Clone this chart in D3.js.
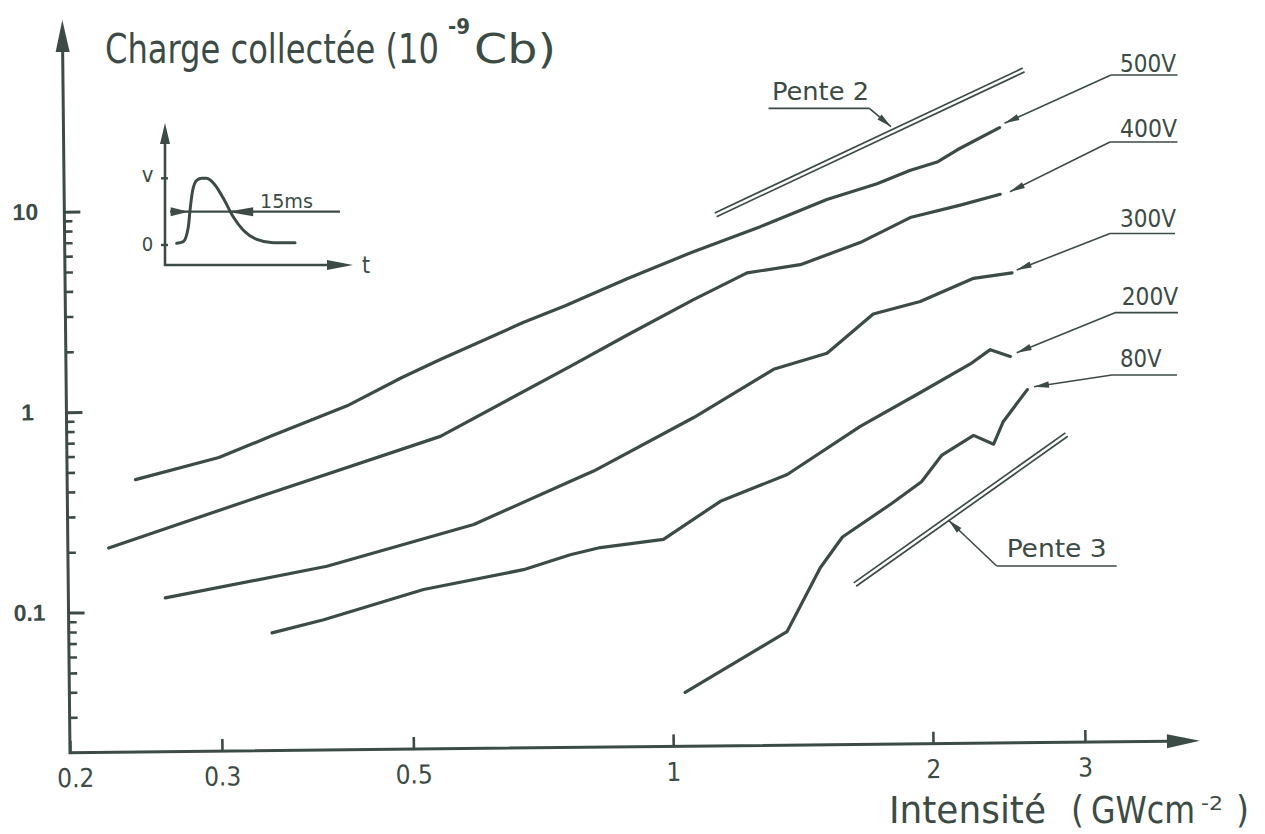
<!DOCTYPE html>
<html>
<head>
<meta charset="utf-8">
<script src="https://cdn.jsdelivr.net/npm/d3@7"></script>
<style>
  html, body { margin: 0; padding: 0; background: #ffffff; }
  svg { display: block; }
</style>
</head>
<body>
<svg id="chart" width="1265" height="834"></svg>
<script>
// ---- Collected charge (10^-9 C) versus laser intensity (GW cm^-2) ----
const intensity500 = [0.24, 0.30, 0.344, 0.423, 0.49, 0.543, 0.678, 0.759, 0.896, 1.07, 1.28, 1.53, 1.75, 1.91, 2.06, 2.17, 2.43];
const charge500    = [0.457, 0.583, 0.737, 1.04, 1.43, 1.75, 2.65, 3.2, 4.33, 5.86, 7.75, 10.5, 12.5, 14.5, 16.0, 18.3, 23.5];

const intensity400 = [0.223, 0.344, 0.542, 0.768, 0.894, 1.069, 1.234, 1.423, 1.67, 1.91, 2.184, 2.43];
const charge400    = [0.209, 0.386, 0.724, 1.594, 2.261, 3.379, 4.564, 4.985, 6.375, 8.447, 9.69, 10.92];

const intensity300 = [0.259, 0.399, 0.591, 0.766, 0.815, 1.066, 1.321, 1.524, 1.726, 1.957, 2.258, 2.502];
const charge300    = [0.117, 0.165, 0.262, 0.426, 0.477, 0.872, 1.503, 1.796, 2.805, 3.219, 4.173, 4.42];

const intensity200 = [0.344, 0.395, 0.516, 0.674, 0.764, 0.828, 0.98, 1.142, 1.366, 1.662, 1.953, 2.233, 2.356, 2.485];
const charge200    = [0.0773, 0.0894, 0.125, 0.155, 0.183, 0.198, 0.216, 0.332, 0.448, 0.772, 1.131, 1.561, 1.835, 1.69];

const intensity80  = [1.034, 1.359, 1.488, 1.58, 1.805, 1.954, 2.065, 2.248, 2.371, 2.434, 2.598];
const charge80     = [0.0371, 0.0737, 0.153, 0.217, 0.318, 0.406, 0.55, 0.687, 0.619, 0.801, 1.154];

const voltageLabels = ["500V", "400V", "300V", "200V", "80V"];

// Reference slopes (log-log): "Pente 2" and "Pente 3"
const slope2Intensity = [1.134, 2.59];
const slope2Charge    = [9.12, 46.4];
const slope3Intensity = [1.626, 2.872];
const slope3Charge    = [0.128, 0.699];

// Axis ticks
const xTickValues = [0.2, 0.3, 0.5, 1, 2, 3];
const xTickLabels = ["0.2", "0.3", "0.5", "1", "2", "3"];
const yTickValues = [0.1, 1, 10];
const yTickLabels = ["0.1", "1", "10"];

// Inset: detector pulse shape (time in ms, normalised voltage)
const pulseTime = [4.55, 7.12, 9.07, 9.73, 10.78, 12.33, 14.28, 16.2, 19.46, 22.7, 26.6, 30.5, 35.7, 42.1, 50.6];
const pulseVolt = [0.025, 0.05, 0.27, 0.52, 0.82, 0.97, 1.0, 1.0, 0.90, 0.70, 0.42, 0.22, 0.085, 0.035, 0.035];
const pulseWidthMs = 15;
const pulseWidthStart = 9.2;

// ---- styling ----
const INK = "#3d4b46";
const NARROW = "'Liberation Sans Narrow','DejaVu Sans Condensed','DejaVu Sans',sans-serif";
const BOLD = "'Liberation Sans',Arial,sans-serif";
const tilt = -0.6;               // the whole plot sits slightly rotated on the sheet

const svg = d3.select("#chart");

// ---- scales ----
const x = d3.scaleLog().domain([0.2, 3]).range([70, 1085]);
const y = d3.scaleLog().domain([0.02, 10]).range([752.7, 211.7]);
const x0 = x(0.2), y0 = y(0.02);
const yAxisTop = 20, xAxisEnd = 1200;

const plot = svg.append("g").attr("transform", `rotate(${tilt},${x0},${y0})`);

// ---- x axis (ticks point up into the plot) ----
const xAxis = d3.axisBottom(x)
  .tickValues(xTickValues)
  .tickFormat((d, i) => xTickLabels[i])
  .tickSize(-12)
  .tickPadding(16);
const gx = plot.append("g").attr("transform", `translate(0,${y0})`).call(xAxis);
gx.select(".domain").remove();
gx.selectAll(".tick line").attr("stroke", INK).attr("stroke-width", 2.6);
gx.selectAll(".tick text")
  .attr("fill", INK).attr("font-family", NARROW).attr("font-size", 26)
  .attr("dx", (d, i) => i === 0 ? 5 : 0);

// ---- y axis: major ticks with labels, minor ticks without ----
const isMajor = d => Math.abs(Math.log10(d) - Math.round(Math.log10(d))) < 1e-6;
const minorValues = y.ticks().filter(d => d > 0.025 && d < 9.5 && !isMajor(d));

const gyMinor = plot.append("g").attr("transform", `translate(${x0},0)`)
  .call(d3.axisLeft(y).tickValues(minorValues).tickFormat("").tickSize(-8));
gyMinor.select(".domain").remove();
gyMinor.selectAll(".tick line").attr("stroke", INK).attr("stroke-width", 2.6);

const gy = plot.append("g").attr("transform", `translate(${x0},0)`)
  .call(d3.axisLeft(y).tickValues(yTickValues).tickFormat((d, i) => yTickLabels[i]).tickSize(-16).tickPadding(39));
gy.select(".domain").remove();
gy.selectAll(".tick line").attr("stroke", INK).attr("stroke-width", 3);
gy.selectAll(".tick text")
  .attr("fill", INK).attr("font-family", BOLD).attr("font-weight", "bold")
  .attr("font-size", 23).attr("text-anchor", "middle");

// ---- axis lines with arrowheads ----
plot.append("path")
  .attr("d", `M${x0},${yAxisTop + 28}L${x0},${y0}L${xAxisEnd - 30},${y0}`)
  .attr("fill", "none").attr("stroke", INK).attr("stroke-width", 3)
  .attr("stroke-linejoin", "miter");
plot.append("path")
  .attr("d", `M${x0},${yAxisTop}L${x0 - 7},${yAxisTop + 32}L${x0 + 7},${yAxisTop + 32}Z`)
  .attr("fill", INK);
plot.append("path")
  .attr("d", `M${xAxisEnd},${y0}L${xAxisEnd - 33},${y0 - 7}L${xAxisEnd - 33},${y0 + 7}Z`)
  .attr("fill", INK);

// ---- measured curves ----
const series = [
  { label: voltageLabels[0], intensity: intensity500, charge: charge500 },
  { label: voltageLabels[1], intensity: intensity400, charge: charge400 },
  { label: voltageLabels[2], intensity: intensity300, charge: charge300 },
  { label: voltageLabels[3], intensity: intensity200, charge: charge200 },
  { label: voltageLabels[4], intensity: intensity80,  charge: charge80 }
];
const line = d3.line().x(d => x(d[0])).y(d => y(d[1]));
plot.selectAll("path.curve")
  .data(series)
  .join("path")
  .attr("class", "curve")
  .attr("d", s => line(d3.zip(s.intensity, s.charge)))
  .attr("fill", "none").attr("stroke", INK).attr("stroke-width", 3.2)
  .attr("stroke-linejoin", "round").attr("stroke-linecap", "round");

// ---- slope guides, drawn as a pair of thin parallel lines ----
function slopeGuide(xs, ys, gap) {
  const a = [x(xs[0]), y(ys[0])], b = [x(xs[1]), y(ys[1])];
  const dx = b[0] - a[0], dy = b[1] - a[1], len = Math.hypot(dx, dy);
  const nx = -dy / len * gap, ny = dx / len * gap;
  [0, 1].forEach(k => {
    plot.append("line")
      .attr("x1", a[0] + k * nx).attr("y1", a[1] + k * ny)
      .attr("x2", b[0] + k * nx).attr("y2", b[1] + k * ny)
      .attr("stroke", INK).attr("stroke-width", 1.7);
  });
}
slopeGuide(slope2Intensity, slope2Charge, 4.2);
slopeGuide(slope3Intensity, slope3Charge, 4.2);

// ---- annotations (page coordinates) ----
const ann = svg.append("g");

function arrowHead(tip, from, len, half) {
  const dx = tip[0] - from[0], dy = tip[1] - from[1], l = Math.hypot(dx, dy);
  const ux = dx / l, uy = dy / l;
  const bx = tip[0] - ux * len, by = tip[1] - uy * len;
  ann.append("path")
    .attr("d", `M${tip[0]},${tip[1]}L${bx - uy * half},${by + ux * half}L${bx + uy * half},${by - ux * half}Z`)
    .attr("fill", INK);
}
function leader(underline, tip) {
  // underline: [xStart, xEnd, y]; the slanted leg leaves from the end nearest the tip
  const [u0, u1, uy] = underline;
  const start = Math.abs(tip[0] - u0) < Math.abs(tip[0] - u1) ? [u0, uy] : [u1, uy];
  ann.append("line").attr("x1", u0).attr("y1", uy).attr("x2", u1).attr("y2", uy)
    .attr("stroke", INK).attr("stroke-width", 1.7);
  ann.append("line").attr("x1", start[0]).attr("y1", start[1]).attr("x2", tip[0]).attr("y2", tip[1])
    .attr("stroke", INK).attr("stroke-width", 1.6);
  arrowHead(tip, start, 15, 3.2);
}
function label(txt, px, py, size, width, extra) {
  const t = ann.append("text").attr("x", px).attr("y", py)
    .attr("fill", INK).attr("font-family", NARROW).attr("font-size", size).text(txt);
  if (width) t.attr("textLength", width).attr("lengthAdjust", "spacingAndGlyphs");
  if (extra) extra(t);
  return t;
}

// voltage labels with leaders
const labelAt     = [[1120, 72], [1120, 137], [1120, 227], [1121.7, 305], [1120, 366.7]];
const labelWidth  = [56, 57, 56, 56.6, 41.7];
const underlines  = [[1111, 1177.5, 75], [1110, 1177.5, 142], [1110, 1175, 233.5], [1115, 1178, 312.7], [1112, 1177, 375]];
const arrowTips   = [[1004.5, 123.3], [1010, 191.7], [1016.7, 270], [1016.7, 352.7], [1034, 386.7]];
series.forEach((s, i) => {
  label(s.label, labelAt[i][0], labelAt[i][1], 25, labelWidth[i]);
  leader(underlines[i], arrowTips[i]);
});

// slope labels
label("Pente 2", 772, 100, 25, 97);
leader([768.5, 869.4, 108.3], [891, 126.7]);
label("Pente 3", 1006.7, 557, 25, 100);
leader([996.7, 1116.7, 566], [948.3, 520]);

// axis titles
label("Charge collectée (10", 105, 63, 40, 334);
label("-9", 448, 34, 21, 22, t => t.attr("font-weight", "bold"));
label("Cb)", 474, 63, 40, 82);

label("Intensité", 889, 823, 37, 157);
label("(", 1071, 823, 37);
label("GWcm", 1091, 823, 37, 104);
label("-2", 1201, 810, 20, 22);
label(")", 1236, 823, 37);

// ---- inset: pulse shape ----
const inset = svg.append("g");
const tS = d3.scaleLinear().domain([0, 50]).range([165, 165 + 50 * 2.57]);
const vS = d3.scaleLinear().domain([0, 1]).range([245, 178.3]);
const insetBottom = 265, insetTop = 123, insetRight = 353;

inset.append("path")
  .attr("d", `M${tS(0)},${insetTop + 18}L${tS(0)},${insetBottom}L${insetRight - 22},${insetBottom}`)
  .attr("fill", "none").attr("stroke", INK).attr("stroke-width", 2.6);
inset.append("path")
  .attr("d", `M${tS(0)},${insetTop}L${tS(0) - 5},${insetTop + 21}L${tS(0) + 5},${insetTop + 21}Z`)
  .attr("fill", INK);
inset.append("path")
  .attr("d", `M${insetRight},${insetBottom}L${insetRight - 26},${insetBottom - 5}L${insetRight - 26},${insetBottom + 5}Z`)
  .attr("fill", INK);
[0, 1].forEach(v => inset.append("line")
  .attr("x1", tS(0) - 4).attr("x2", tS(0) + 3).attr("y1", vS(v)).attr("y2", vS(v))
  .attr("stroke", INK).attr("stroke-width", 2.4));

inset.append("path")
  .attr("d", d3.line().x(d => tS(d[0])).y(d => vS(d[1])).curve(d3.curveMonotoneX)(d3.zip(pulseTime, pulseVolt)))
  .attr("fill", "none").attr("stroke", INK).attr("stroke-width", 3)
  .attr("stroke-linecap", "round");

// full width at half maximum, dimensioned from outside
const halfY = vS(0.5);
const tipL = tS(pulseWidthStart), tipR = tS(pulseWidthStart + pulseWidthMs);
inset.append("line").attr("x1", 170).attr("x2", 340).attr("y1", halfY).attr("y2", halfY)
  .attr("stroke", INK).attr("stroke-width", 2.2);
inset.append("path").attr("d", `M${tipL},${halfY}L${tipL - 18},${halfY - 4.5}L${tipL - 18},${halfY + 4.5}Z`).attr("fill", INK);
inset.append("path").attr("d", `M${tipR},${halfY}L${tipR + 26},${halfY - 4.5}L${tipR + 26},${halfY + 4.5}Z`).attr("fill", INK);

inset.append("text").attr("x", 260).attr("y", 208).attr("fill", INK)
  .attr("font-family", NARROW).attr("font-size", 20)
  .attr("textLength", 53).attr("lengthAdjust", "spacingAndGlyphs")
  .text(pulseWidthMs + "ms");
inset.append("text").attr("x", 147.5).attr("y", 182).attr("text-anchor", "middle").attr("fill", INK)
  .attr("font-family", NARROW).attr("font-size", 22).text("v");
inset.append("text").attr("x", 147.5).attr("y", 251).attr("text-anchor", "middle").attr("fill", INK)
  .attr("font-family", NARROW).attr("font-size", 20).text("0");
inset.append("text").attr("x", 366).attr("y", 273).attr("text-anchor", "middle").attr("fill", INK)
  .attr("font-family", NARROW).attr("font-size", 23).text("t");
</script>
</body>
</html>
